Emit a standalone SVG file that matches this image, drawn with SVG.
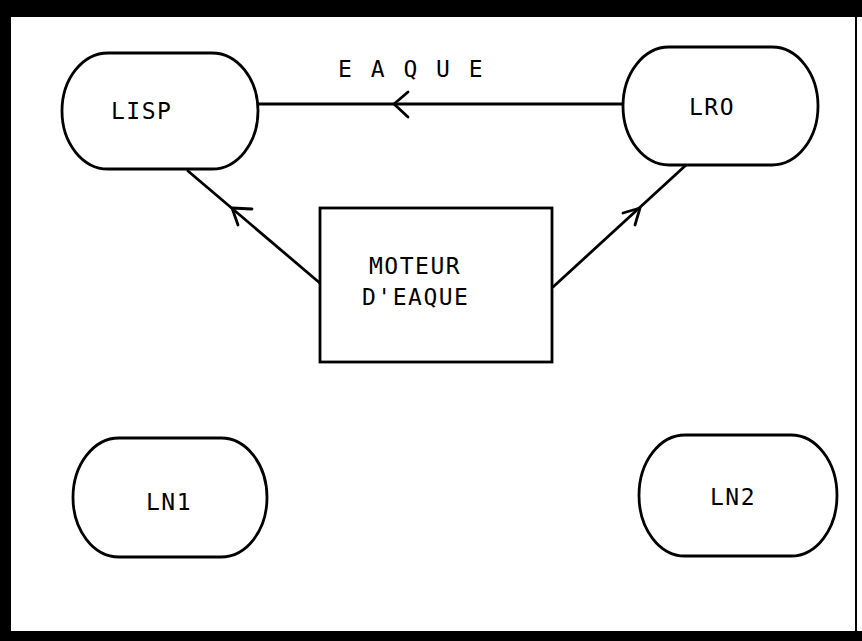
<svg xmlns="http://www.w3.org/2000/svg" width="862" height="641" viewBox="0 0 862 641">
  <defs>
    <style>
      .node { fill: #ffffff; stroke: #000000; stroke-width: 2.8; }
      .lbl { font-family: "DejaVu Sans Mono", "Liberation Mono", monospace; font-size: 23px; fill: #000000; letter-spacing: 1.5px; }
      .edge { fill: none; stroke: #000000; stroke-width: 2.8; stroke-linecap: round; }
      .head { fill: none; stroke: #000000; stroke-width: 2.8; stroke-linecap: round; stroke-linejoin: round; }
    </style>
  </defs>
  <rect x="0" y="0" width="862" height="641" fill="#ffffff"/>
  <g id="frame">
    <rect x="0" y="0" width="862" height="17" fill="#000000"/>
    <rect x="0" y="0" width="11" height="641" fill="#000000"/>
    <rect x="0" y="631" width="862" height="10" fill="#000000"/>
    <rect x="855" y="0" width="2" height="641" fill="#000000"/>
  </g>
  <g id="connectors">
    <line class="edge" x1="258" y1="104" x2="623" y2="104"/>
    <polyline class="head" points="408,92 394,104 408,117"/>
    <line class="edge" x1="188" y1="171" x2="321" y2="284"/>
    <polyline class="head" points="252,209 232,208 238,225"/>
    <line class="edge" x1="553" y1="287" x2="685" y2="166"/>
    <polyline class="head" points="623,213 640,208 635,225"/>
  </g>
  <g id="label-eaque">
    <text class="lbl" x="338" y="77" style="letter-spacing:2.5px">E A Q U E</text>
  </g>
  <g id="node-lisp">
    <rect class="node" x="62" y="53" width="196" height="116" rx="46" ry="58"/>
    <text class="lbl" x="111" y="119">LISP</text>
  </g>
  <g id="node-lro">
    <rect class="node" x="623" y="47" width="195" height="118" rx="46" ry="59"/>
    <text class="lbl" x="689" y="115">LRO</text>
  </g>
  <g id="node-moteur">
    <rect class="node" x="320" y="208" width="232" height="154"/>
    <text class="lbl" x="369" y="274">MOTEUR</text>
    <text class="lbl" x="362" y="305">D'EAQUE</text>
  </g>
  <g id="node-ln1">
    <rect class="node" x="73" y="438" width="194" height="119" rx="46" ry="59.5"/>
    <text class="lbl" x="146" y="510">LN1</text>
  </g>
  <g id="node-ln2">
    <rect class="node" x="639" y="435" width="198" height="121" rx="46" ry="60.5"/>
    <text class="lbl" x="710" y="505">LN2</text>
  </g>
</svg>
